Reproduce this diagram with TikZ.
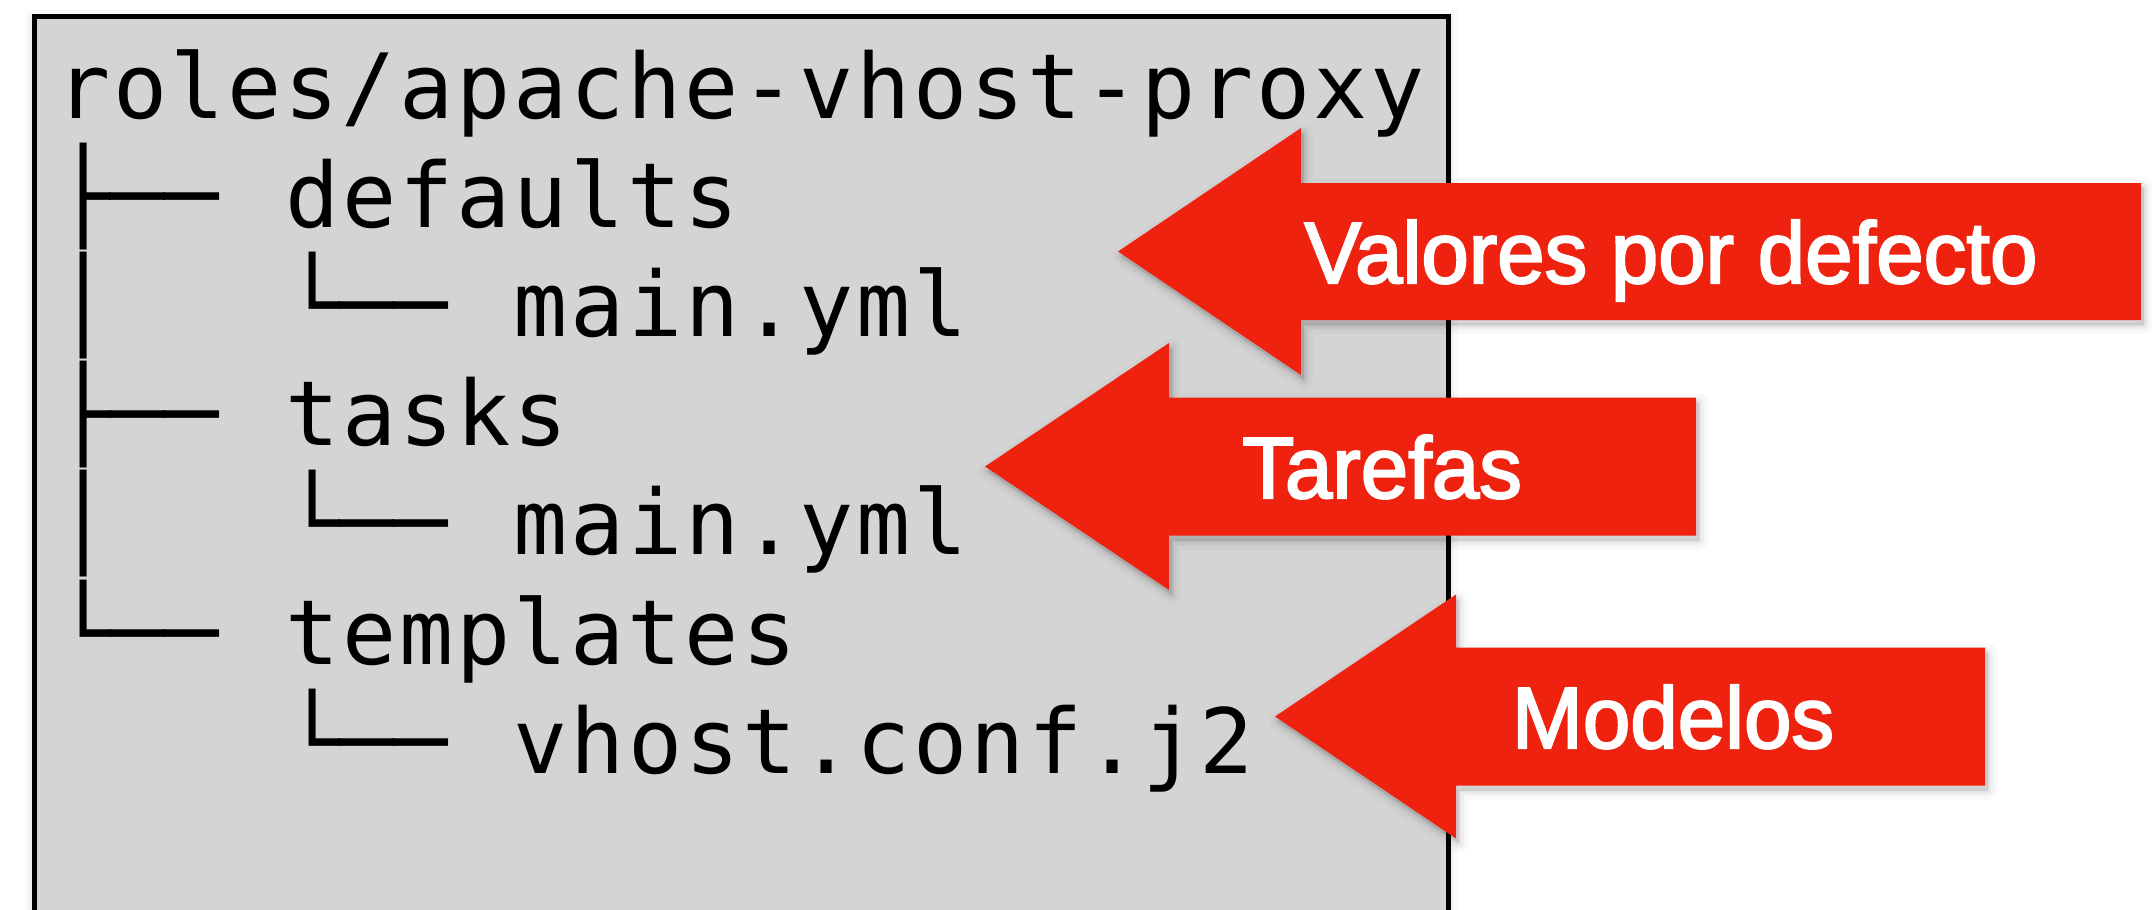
\documentclass[tikz,border=0pt]{standalone}
\usepackage{fontspec}
\newfontfamily\treefont[LetterSpace=3.3]{DejaVu Sans Mono}
\newfontfamily\linefont{DejaVu Sans Mono}
\newfontfamily\labelfont[FakeBold=2.5]{Liberation Sans}
\definecolor{boxgray}{HTML}{D4D4D4}
\definecolor{arrowred}{RGB}{238,34,14}
% tip x, centre y, head x, right x, head half height, shaft half height
\newcommand\larrowpath[6]{(#1,#2) -- (#3,#2-#5) -- (#3,#2-#6) -- (#4,#2-#6) -- (#4,#2+#6) -- (#3,#2+#6) -- (#3,#2+#5) -- cycle}
\newcommand\narrowlabel[1]{\scalebox{0.98}[1]{#1}}
\tikzset{
  treetext/.style={anchor=base west, inner sep=0pt, font=\treefont\fontsize{90}{108}\selectfont},
  treeline/.style={anchor=base west, inner sep=0pt, font=\linefont\fontsize{90}{108}\selectfont},
  arrowlabel/.style={anchor=base, inner sep=0pt, text=white, font=\labelfont\fontsize{87}{100}\selectfont},
  arrowshape/.style={fill=arrowred,
    preaction={draw=black, line width=18pt, opacity=0.025, line join=round, transform canvas={shift={(3pt,-5pt)}}},
    preaction={draw=black, line width=10pt, opacity=0.04, line join=round, transform canvas={shift={(3pt,-5pt)}}},
    preaction={draw=black, line width=4pt, opacity=0.05, line join=round, transform canvas={shift={(3pt,-5pt)}}},
    preaction={fill=black, opacity=0.10, transform canvas={shift={(3pt,-5pt)}}}},
  boxshape/.style={fill=boxgray, draw=black, line width=5pt,
    preaction={draw=black, line width=20pt, opacity=0.02, transform canvas={shift={(0pt,-3pt)}}},
    preaction={draw=black, line width=12pt, opacity=0.03, transform canvas={shift={(0pt,-3pt)}}}}
}
\begin{document}
\begin{tikzpicture}[x=1pt,y=-1pt]
\useasboundingbox (0,0) rectangle (2152,910);
\clip (0,0) rectangle (2152,910);
\fill[white] (0,0) rectangle (2152,910);
% grey panel
\path[boxshape] (34.5,16.5) rectangle (1448,960);
% tree text
\node[treetext] (root) at (56,118) {roles/apache-vhost-proxy};
\node[treeline] (t1) at (56,227.2) {├──};
\node[treetext] (defaults) at (284.8,227.2) {defaults};
\node[treeline] (v2) at (56,336.4) {│};
\node[treeline] (t2) at (284.8,336.4) {└──};
\node[treetext] (mainA) at (513.6,336.4) {main.yml};
\node[treeline] (t3) at (56,445.6) {├──};
\node[treetext] (tasks) at (284.8,445.6) {tasks};
\node[treeline] (v4) at (56,554.8) {│};
\node[treeline] (t4) at (284.8,554.8) {└──};
\node[treetext] (mainB) at (513.6,554.8) {main.yml};
\node[treeline] (t5) at (56,664) {└──};
\node[treetext] (templates) at (284.8,664) {templates};
\node[treeline] (t6) at (284.8,773.2) {└──};
\node[treetext] (vhost) at (513.6,773.2) {vhost.conf.j2};
% arrows
\path[arrowshape] \larrowpath{1118}{251.5}{1301}{2141}{123.5}{68.5};
\path[arrowshape] \larrowpath{985}{466.5}{1169}{1696}{123.5}{69};
\path[arrowshape] \larrowpath{1275}{716.5}{1456}{1985}{122}{69};
\node[arrowlabel] (valores) at (1671,283) {\narrowlabel{Valores por defecto}};
\node[arrowlabel] (tarefas) at (1382,498) {\narrowlabel{Tarefas}};
\node[arrowlabel] (modelos) at (1673,748) {\narrowlabel{Modelos}};
\end{tikzpicture}
\end{document}
